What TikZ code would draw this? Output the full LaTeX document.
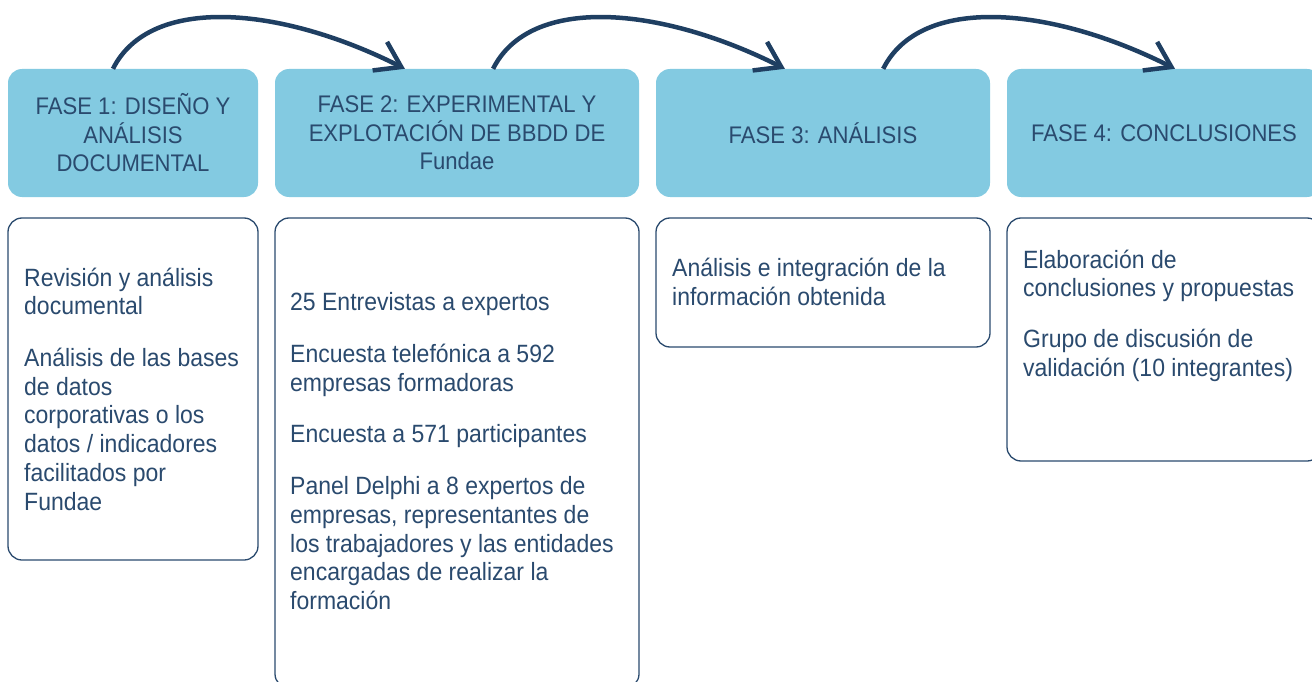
\documentclass[tikz,border=0pt]{standalone}
\usepackage{fontspec}
\setmainfont{Liberation Sans}[FakeStretch=0.92]
\usetikzlibrary{arrows.meta,calc}
\definecolor{hdrfill}{HTML}{83CAE1}
\definecolor{navy}{HTML}{2A4A6E}
\definecolor{arrowc}{HTML}{1F3F62}
\begin{document}
\begin{tikzpicture}[x=1pt,y=-1pt,
  hdr/.style={rectangle, rounded corners=14pt, fill=hdrfill, draw=none, text=navy, align=center,
    font=\fontsize{24}{28.5}\selectfont, inner sep=0pt, minimum height=128pt},
  bodybox/.style={rectangle, rounded corners=14pt, draw=navy, line width=1.3pt, fill=white, inner sep=0pt},
  btxt/.style={anchor=north west, inner sep=0pt, align=left, text=navy,
    font=\fontsize{25}{28.7}\selectfont},
  flow/.style={draw=arrowc, line width=4.5pt, -{Straight Barb[length=24pt,width=32pt]}}]
\useasboundingbox (0,0) rectangle (1312,682);
\clip (0,0) rectangle (1312,682);

% header boxes
\node[hdr, minimum width=250pt] (h1) at (133,133) {FASE 1: DISEÑO Y\\ANÁLISIS\\DOCUMENTAL};
\node[hdr, minimum width=364pt] (h2) at (457,133) {FASE 2: EXPERIMENTAL Y\\EXPLOTACIÓN DE BBDD DE\\Fundae};
\node[hdr, minimum width=334pt] (h3) at (823,133) {FASE 3: ANÁLISIS};
\node[hdr, minimum width=314pt] (h4) at (1164,133) {FASE 4: CONCLUSIONES};

% body boxes
\node[bodybox, minimum width=250pt, minimum height=342pt] (b1) at (133,389) {};
\node[bodybox, minimum width=364pt, minimum height=470pt] (b2) at (457,453) {};
\node[bodybox, minimum width=334pt, minimum height=129pt] (b3) at (823,282.5) {};
\node[bodybox, minimum width=314pt, minimum height=243pt] (b4) at (1164,339.5) {};

% body texts
\node[btxt] (t1) at (24,265.9) {\strut Revisión y análisis\\documental\\[23pt]Análisis de las bases\\de datos\\corporativas o los\\datos / indicadores\\facilitados por\\Fundae};
\node[btxt] (t2) at (290,290.6) {\strut 25 Entrevistas a expertos\\[23pt]Encuesta telefónica a 592\\empresas formadoras\\[23pt]Encuesta a 571 participantes\\[23pt]Panel Delphi a 8 expertos de\\empresas, representantes de\\los trabajadores y las entidades\\encargadas de realizar la\\formación};
\node[btxt] (t3) at (672,256.6) {\strut Análisis e integración de la\\información obtenida};
\node[btxt] (t4) at (1023,247.9) {\strut Elaboración de\\conclusiones y propuestas\\[22pt]Grupo de discusión de\\validación (10 integrantes)};

% arrows
\draw[flow] ($(h1.north west)!0.42!(h1.north east)$) .. controls +(37,-74) and +(-125,-63) .. ($(h2.north west)!0.357!(h2.north east)$);
\draw[flow] ($(h2.north west)!0.599!(h2.north east)$) .. controls +(37,-74) and +(-125,-63) .. ($(h3.north west)!0.386!(h3.north east)$);
\draw[flow] ($(h3.north west)!0.68!(h3.north east)$) .. controls +(37,-74) and +(-125,-63) .. ($(h4.north west)!0.535!(h4.north east)$);
\end{tikzpicture}
\end{document}
